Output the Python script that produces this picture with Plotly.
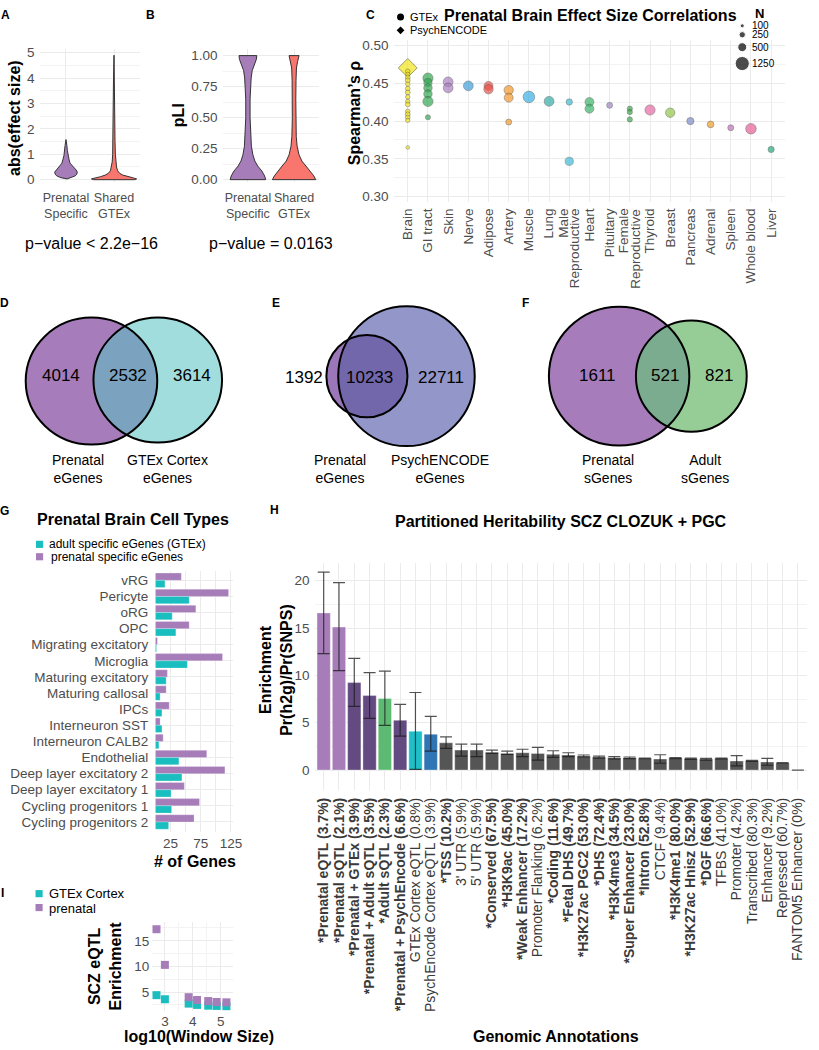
import numpy as np
import plotly.graph_objects as go

W, H = 819, 1050
FONT = "Liberation Sans, Arial, Helvetica, sans-serif"
BLACK = "#000000"
TICK = "#4D4D4D"
GRID = "#EBEBEB"
MINOR = "#F3F3F3"

# ======================= DATA =======================
# ---- Panel A: abs(effect size) violins (value grid + relative density)
a_groups = ["Prenatal<br>Specific", "Shared<br>GTEx"]
a_prenatal_value = [0.03, 0.08, 0.15, 0.22, 0.30, 0.38, 0.46, 0.55, 0.65, 0.78, 0.95, 1.15, 1.35, 1.58]
a_prenatal_density = [0.05, 0.23, 0.41, 0.48, 0.50, 0.45, 0.36, 0.27, 0.18, 0.14, 0.09, 0.06, 0.04, 0.0]
a_shared_value = [0.0, 0.03, 0.07, 0.12, 0.18, 0.25, 0.35, 0.5, 0.7, 1.0, 1.5, 2.0, 3.0, 4.0, 4.9]
a_shared_density = [0.91, 1.0, 0.86, 0.59, 0.39, 0.25, 0.16, 0.11, 0.08, 0.06, 0.045, 0.036, 0.027, 0.023, 0.0]
a_pvalue = "p\u2212value < 2.2e\u221216"

# ---- Panel B: pLI violins
b_groups = ["Prenatal<br>Specific", "Shared<br>GTEx"]
b_prenatal_value = [0.0, 0.03, 0.07, 0.11, 0.15, 0.2, 0.27, 0.35, 0.5, 0.65, 0.75, 0.82, 0.88, 0.93, 0.97, 1.0]
b_prenatal_density = [0.82, 0.77, 0.64, 0.45, 0.32, 0.23, 0.16, 0.13, 0.10, 0.10, 0.12, 0.15, 0.20, 0.30, 0.39, 0.41]
b_shared_value = [0.0, 0.03, 0.07, 0.11, 0.15, 0.2, 0.27, 0.35, 0.5, 0.65, 0.8, 0.9, 0.95, 1.0]
b_shared_density = [1.0, 0.91, 0.73, 0.55, 0.36, 0.23, 0.14, 0.10, 0.08, 0.08, 0.09, 0.11, 0.16, 0.23]
b_pvalue = "p\u2212value = 0.0163"

# ---- Panel C: effect size correlations
c_tissues = ["Brain", "GI tract", "Skin", "Nerve", "Adipose", "Artery", "Muscle", "Lung",
             "Male\nReproductive", "Heart", "Pituitary", "Female\nReproductive", "Thyroid",
             "Breast", "Pancreas", "Adrenal", "Spleen", "Whole blood", "Liver"]
c_point_tissue = (["Brain"] * 15 +
                  ["GI tract"] * 6 + ["Skin"] * 2 + ["Nerve"] + ["Adipose"] * 2 + ["Artery"] * 3 +
                  ["Muscle"] + ["Lung"] + ["Male\nReproductive"] * 2 + ["Heart"] * 2 + ["Pituitary"] +
                  ["Female\nReproductive"] * 3 + ["Thyroid"] + ["Breast"] + ["Pancreas"] + ["Adrenal"] +
                  ["Spleen"] + ["Whole blood"] + ["Liver"])
c_point_rho = ([0.466, 0.462, 0.458, 0.454, 0.449, 0.443, 0.438, 0.432, 0.426, 0.422, 0.413, 0.409, 0.405, 0.401, 0.365] +
               [0.457, 0.451, 0.444, 0.436, 0.426, 0.405] + [0.452, 0.444] + [0.4467] + [0.4467, 0.4422] +
               [0.441, 0.431, 0.3987] + [0.432] + [0.4262] + [0.4253, 0.3466] + [0.4253, 0.4164] + [0.4209] +
               [0.4164, 0.412, 0.4022] + [0.4147] + [0.4111] + [0.400] + [0.3956] + [0.3911] + [0.3898] + [0.3624])
c_point_n = ([130, 120, 140, 150, 130, 140, 150, 130, 120, 140, 130, 150, 130, 120, 80] +
             [650, 420, 450, 450, 650, 160] + [600, 600] + [600] + [500, 550] + [550, 500, 220] + [850] +
             [600] + [250, 420] + [500, 500] + [220] + [170, 170, 170] + [650] + [550] + [330] + [280] +
             [230] + [700] + [240])
c_psychencode_tissue = ["Brain"]
c_psychencode_rho = [0.4705]
c_psychencode_n = [1300]
c_size_legend_n = [100, 250, 500, 1250]
c_size_legend_labels = ["100", "250", "500", "1250"]

# ---- Panels D, E, F: Venn counts
d_counts = [4014, 2532, 3614]
d_sets = ["Prenatal<br>eGenes", "GTEx Cortex<br>eGenes"]
e_counts = [1392, 10233, 22711]
e_sets = ["Prenatal<br>eGenes", "PsychENCODE<br>eGenes"]
f_counts = [1611, 521, 821]
f_sets = ["Prenatal<br>sGenes", "Adult<br>sGenes"]

# ---- Panel G: prenatal brain cell types
g_cell_types = ["vRG", "Pericyte", "oRG", "OPC", "Migrating excitatory", "Microglia",
                "Maturing excitatory", "Maturing callosal", "IPCs", "Interneuron SST",
                "Interneuron CALB2", "Endothelial", "Deep layer excitatory 2",
                "Deep layer excitatory 1", "Cycling progenitors 1", "Cycling progenitors 2"]
g_prenatal = [43, 121, 67, 56, 3.5, 111, 20, 18, 23, 8, 13, 85, 115, 48, 73, 64]
g_adult = [16, 56, 28, 34, 2, 53, 18, 8, 11, 11, 6, 39, 44, 26, 27, 22]
g_legend = ["adult specific eGenes (GTEx)", "prenatal specific eGenes"]

# ---- Panel H: partitioned heritability
h_annotations = ["*Prenatal eQTL (3.7%)", "*Prenatal sQTL (2.1%)", "*Prenatal + GTEx (3.9%)",
                 "*Prenatal + Adult sQTL (3.5%)", "*Adult sQTL (2.3%)", "*Prenatal + PsychEncode (6.6%)",
                 "GTEx Cortex eQTL (0.8%)", "PsychEncode Cortex eQTL (3.9%)", "*TSS (10.2%)",
                 "3' UTR (5.9%)", "5' UTR (5.9%)", "*Conserved (67.5%)", "*H3K9ac (45.0%)",
                 "*Weak Enhancer (17.2%)", "Promoter Flanking (6.2%)", "*Coding (11.6%)",
                 "*Fetal DHS (49.7%)", "*H3K27ac PGC2 (53.0%)", "*DHS (72.4%)", "*H3K4me3 (34.5%)",
                 "*Super Enhancer (23.0%)", "*Intron (52.8%)", "CTCF (9.4%)", "*H3K4me1 (80.0%)",
                 "*H3K27ac Hnisz (52.9%)", "*DGF (66.6%)", "TFBS (41.0%)", "Promoter (4.2%)",
                 "Transcribed (80.3%)", "Enhancer (9.2%)", "Repressed (60.7%)", "FANTOM5 Enhancer (0%)"]
h_group = ["prenatal", "prenatal", "combined", "combined", "adult", "combined", "gtex", "psychencode"] + ["baseline"] * 24
h_enrichment = [16.6, 15.1, 9.24, 7.87, 7.56, 5.26, 4.1, 3.79, 2.88, 2.11, 2.11, 1.87, 1.76, 1.83, 1.76, 1.66,
                1.59, 1.48, 1.38, 1.31, 1.31, 1.24, 1.17, 1.27, 1.2, 1.17, 1.24, 0.96, 0.99, 0.86, 0.75, 0.0]
h_upper = [20.9, 19.8, 11.8, 10.3, 10.45, 6.93, 8.19, 5.68, 3.5, 2.74, 2.74, 2.11, 2.0, 2.2, 2.39, 2.04,
           1.83, 1.59, 1.48, 1.41, 1.38, 1.27, 1.62, 1.31, 1.27, 1.24, 1.27, 1.52, 1.03, 1.24, 0.79, 0.0]
h_lower = [12.3, 10.5, 6.72, 5.47, 4.73, 3.58, 0.08, 2.01, 2.29, 1.48, 1.41, 1.76, 1.66, 1.41, 1.06, 1.34,
           1.41, 1.38, 1.27, 1.17, 1.2, 1.2, 0.72, 1.2, 1.13, 1.06, 1.17, 0.44, 0.92, 0.51, 0.72, 0.0]

# ---- Panel I: SCZ eQTL enrichment by window size
i_log_window = [2.7, 3.0, 3.85, 4.15, 4.55, 4.85, 5.2]
i_prenatal = [17.25, 10.3, 4.0, 3.45, 3.25, 3.06, 3.0]
i_gtex = [4.4, 3.6, 2.75, 2.5, 2.35, 2.3, 2.25]
i_legend = ["GTEx Cortex", "prenatal"]

# ======================= STYLE =======================
PURPLE = "#A67DB9"
RED = "#F8766D"
CYAN = "#1BBEBF"
tissue_colors = {
    "Brain": "#F2E51E", "GI tract": "#35A853", "Skin": "#A97FC0", "Nerve": "#3E9FDB",
    "Adipose": "#E8554D", "Artery": "#F29A2E", "Muscle": "#39B0E6", "Lung": "#35ADA8",
    "Male\nReproductive": "#3EBDD7", "Heart": "#3DB56A", "Pituitary": "#A286C6",
    "Female\nReproductive": "#3FA84F", "Thyroid": "#E86AA6", "Breast": "#92C84A",
    "Pancreas": "#7E8DC8", "Adrenal": "#EFA02C", "Spleen": "#C071B5",
    "Whole blood": "#E95F96", "Liver": "#27AB80"}
h_colors = {"prenatal": PURPLE, "combined": "#634A80", "adult": "#5DBA73",
            "gtex": "#1EBFC9", "psychencode": "#2F75B5", "baseline": "#555555"}
SIZEREF = 12.5

# C axis geometry (pixels)
C_X0, C_X1, C_RANGE = 398, 794, (-0.7, 18.7)


def dom_x(a, b):
    return [a / W, b / W]


def dom_y(top, bottom):
    return [1 - bottom / H, 1 - top / H]


def axis(domain, rng, anchor, **kw):
    d = dict(domain=domain, range=rng, anchor=anchor, showgrid=True, gridcolor=GRID, gridwidth=1,
             zeroline=False, showline=False, ticks="", fixedrange=True,
             tickfont=dict(family=FONT, size=13.5, color=TICK))
    d.update(kw)
    return d


fig = go.Figure()


def violin(center, values, density, color, xa, ya, half=0.47):
    v = np.asarray(values, float)
    w = np.asarray(density, float) * half
    xs = np.concatenate([center + w, (center - w)[::-1], [center + w[0]]])
    ys = np.concatenate([v, v[::-1], [v[0]]])
    fig.add_trace(go.Scatter(x=xs, y=ys, mode="lines", fill="toself", fillcolor=color,
                             line=dict(color="#333333", width=1), xaxis=xa, yaxis=ya,
                             hoverinfo="skip", showlegend=False))


# A
violin(0, a_prenatal_value, a_prenatal_density, PURPLE, "x", "y")
violin(1, a_shared_value, a_shared_density, RED, "x", "y")
# B
violin(0, b_prenatal_value, b_prenatal_density, PURPLE, "x2", "y2")
violin(1, b_shared_value, b_shared_density, RED, "x2", "y2")

# C
c_x = [c_tissues.index(t) for t in c_point_tissue]
fig.add_trace(go.Scatter(
    x=[c_tissues.index(t) for t in c_psychencode_tissue], y=c_psychencode_rho, mode="markers",
    marker=dict(symbol="diamond", size=c_psychencode_n, sizemode="area", sizeref=SIZEREF,
                color=tissue_colors["Brain"], line=dict(color="#7a7320", width=1)),
    xaxis="x3", yaxis="y3", showlegend=False, hoverinfo="skip"))
fig.add_trace(go.Scatter(
    x=c_x, y=c_point_rho, mode="markers",
    marker=dict(symbol="circle", size=c_point_n, sizemode="area", sizeref=SIZEREF,
                color=[tissue_colors[t] for t in c_point_tissue],
                line=dict(color="rgba(60,60,60,0.75)", width=0.7)),
    xaxis="x3", yaxis="y3", showlegend=False, hoverinfo="skip"))

# G
fig.add_trace(go.Bar(y=g_cell_types, x=g_prenatal, orientation="h", marker=dict(color=PURPLE,
              line=dict(color="rgba(255,255,255,0.5)", width=0.5)), xaxis="x4", yaxis="y4",
              showlegend=False, hoverinfo="skip"))
fig.add_trace(go.Bar(y=g_cell_types, x=g_adult, orientation="h", marker=dict(color=CYAN,
              line=dict(color="rgba(255,255,255,0.5)", width=0.5)), xaxis="x4", yaxis="y4",
              showlegend=False, hoverinfo="skip"))

# H
h_val = np.array(h_enrichment)
fig.add_trace(go.Bar(
    x=list(range(len(h_annotations))), y=h_enrichment, width=0.87,
    marker=dict(color=[h_colors[g] for g in h_group], line=dict(color="rgba(255,255,255,0.6)", width=0.6)),
    error_y=dict(type="data", symmetric=False, array=list(np.array(h_upper) - h_val),
                 arrayminus=list(h_val - np.array(h_lower)), color="rgba(25,25,25,0.75)",
                 thickness=1.2, width=6),
    xaxis="x5", yaxis="y5", showlegend=False, hoverinfo="skip"))

# I
fig.add_trace(go.Scatter(x=i_log_window, y=i_gtex, mode="markers",
                         marker=dict(symbol="square", size=8, color=CYAN),
                         xaxis="x6", yaxis="y6", showlegend=False, hoverinfo="skip", cliponaxis=False))
fig.add_trace(go.Scatter(x=i_log_window, y=i_prenatal, mode="markers",
                         marker=dict(symbol="square", size=8, color=PURPLE),
                         xaxis="x6", yaxis="y6", showlegend=False, hoverinfo="skip", cliponaxis=False))

# Overlay legends for C (pixel space)
fig.add_trace(go.Scatter(x=[405], y=[14], mode="markers", marker=dict(symbol="circle", size=7, color="black"),
                         xaxis="x7", yaxis="y7", showlegend=False, hoverinfo="skip"))
fig.add_trace(go.Scatter(x=[405], y=[27.5], mode="markers", marker=dict(symbol="diamond", size=6, color="black"),
                         xaxis="x7", yaxis="y7", showlegend=False, hoverinfo="skip"))
fig.add_trace(go.Scatter(x=[750.5] * 4, y=[23, 32, 44.5, 61], mode="markers",
                         marker=dict(symbol="circle", size=c_size_legend_n, sizemode="area",
                                     sizeref=SIZEREF, color="black"),
                         xaxis="x7", yaxis="y7", showlegend=False, hoverinfo="skip"))

# ======================= VENN SHAPES =======================
shapes = []


def ell_pts(e, n=360):
    cx, cy, rx, ry = e
    t = np.linspace(0, 2 * np.pi, n, endpoint=False)
    return np.c_[cx + rx * np.cos(t), cy + ry * np.sin(t)]


def inside(p, e):
    cx, cy, rx, ry = e
    return ((p[:, 0] - cx) / rx) ** 2 + ((p[:, 1] - cy) / ry) ** 2 <= 1.0


def to_path(p):
    return "M " + " L ".join(f"{x:.2f},{y:.2f}" for x, y in p) + " Z"


def venn(e1, e2, c1, c2, c12):
    p1, p2 = ell_pts(e1), ell_pts(e2)
    for p, c in ((p1, c1), (p2, c2)):
        shapes.append(dict(type="path", path=to_path(p), xref="x7", yref="y7",
                           fillcolor=c, line=dict(width=0)))
    q = np.vstack([p1[inside(p1, e2)], p2[inside(p2, e1)]])
    cen = q.mean(0)
    q = q[np.argsort(np.arctan2(q[:, 1] - cen[1], q[:, 0] - cen[0]))]
    shapes.append(dict(type="path", path=to_path(q), xref="x7", yref="y7",
                       fillcolor=c12, line=dict(width=0)))
    for e in (e1, e2):
        cx, cy, rx, ry = e
        shapes.append(dict(type="circle", xref="x7", yref="y7", x0=cx - rx, x1=cx + rx,
                           y0=cy - ry, y1=cy + ry, line=dict(color="black", width=2),
                           fillcolor="rgba(0,0,0,0)"))


venn((92.5, 381, 66.5, 64), (159.5, 380, 65, 63), "#A67DBA", "#A1DDDD", "#7BA3BF")
venn((411, 376, 69, 70.5), (371, 376, 41, 41.5), "#9396C8", "#9B76B8", "#7367AB")
venn((626, 376, 71, 70), (699, 376, 56, 56), "#A67DBA", "#96CC96", "#7BAC8F")

# legend squares (G, I)
for (cx, cy, col) in [(40, 545.5, CYAN), (40, 558, PURPLE), (39.5, 897.5, CYAN), (39.5, 911.5, PURPLE)]:
    shapes.append(dict(type="rect", xref="x7", yref="y7", x0=cx - 3.6, x1=cx + 3.6, y0=cy - 3.6,
                       y1=cy + 3.6, fillcolor=col, line=dict(width=0)))

# ======================= ANNOTATIONS =======================
anns = []


def ann(x, y, text, size=13.5, color=BLACK, bold=False, xanchor="center", yanchor="middle", angle=0):
    if bold:
        text = f"<b>{text}</b>"
    anns.append(dict(x=x, y=y, xref="x7", yref="y7", text=text, showarrow=False,
                     font=dict(family=FONT, size=size, color=color), xanchor=xanchor,
                     yanchor=yanchor, textangle=angle, align="center"))


for lab, x, y in [("A", 6, 12), ("B", 152, 12), ("C", 375, 12), ("D", 5, 302), ("E", 279, 302),
                  ("F", 531, 302), ("G", 5, 512), ("H", 278, 511), ("I", 3, 897)]:
    ann(x, y, lab, size=12, bold=True)

ann(597, 13, "Prenatal Brain Effect Size Correlations", size=16, bold=True)
ann(134, 520, "Prenatal Brain Cell Types", size=16, bold=True)
ann(567, 522, "Partitioned Heritability SCZ CLOZUK + PGC", size=16, bold=True)

ann(14, 116, "abs(effect size)", size=16, bold=True, angle=-90)
ann(180, 113, "pLI", size=16, bold=True, angle=-90)
ann(358, 111, "Spearman\u2019s \u03c1", size=16, bold=True, angle=-90)
ann(197, 865, "# of Genes", size=16, bold=True)
ann(279, 672, "Enrichment<br>Pr(h2g)/Pr(SNPS)", size=16, bold=True, angle=-90)
ann(562, 1041, "Genomic Annotations", size=16, bold=True)
ann(106, 970, "SCZ eQTL<br>Enrichment", size=16, bold=True, angle=-90)
ann(201, 1041, "log10(Window Size)", size=16, bold=True)

ann(93, 242, a_pvalue, size=16)
ann(274, 242, b_pvalue, size=16)

# C: two-line tissue tick labels drawn as tight rotated text (one line per column)
c_ticktext = []
for i, t in enumerate(c_tissues):
    if "\n" in t:
        c_ticktext.append("")
        xpix = C_X0 + (i - C_RANGE[0]) / (C_RANGE[1] - C_RANGE[0]) * (C_X1 - C_X0)
        first, second = t.split("\n")
        ann(xpix - 5.5, 205, first, size=13.5, color=TICK, yanchor="top", angle=-90)
        ann(xpix + 5.5, 205, second, size=13.5, color=TICK, yanchor="top", angle=-90)
    else:
        c_ticktext.append(t)

for (x, n) in zip([62, 129, 194], d_counts):
    ann(x, 375, str(n), size=17)
for (x, n) in zip([307, 374, 446], e_counts):
    ann(x, 377, str(n), size=17)
for (x, n) in zip([604, 672, 727], f_counts):
    ann(x, 375, str(n), size=17)
for (x, t) in zip([79, 169], d_sets):
    ann(x, 470, t, size=14)
for (x, t) in zip([344, 445], e_sets):
    ann(x, 470, t, size=14)
for (x, t) in zip([615, 713], f_sets):
    ann(x, 470, t, size=14)

ann(413, 14, "GTEx", size=11, xanchor="left")
ann(413, 27.5, "PsychENCODE", size=11, xanchor="left")
ann(768, 11, "N", size=13, bold=True)
for (y, t) in zip([23, 32, 44.5, 61], c_size_legend_labels):
    ann(758, y, t, size=10, xanchor="left")
ann(48, 545, g_legend[0], size=12, xanchor="left")
ann(50, 558.5, g_legend[1], size=12, xanchor="left")
ann(48, 897, i_legend[0], size=13, xanchor="left")
ann(48, 912, i_legend[1], size=13, xanchor="left")

# ======================= LAYOUT =======================
h_ticktext = [f"<b>{t}</b>" if t.startswith("*") else t for t in h_annotations]

fig.update_layout(
    width=W, height=H, margin=dict(l=0, r=0, t=0, b=0, pad=0),
    paper_bgcolor="white", plot_bgcolor="rgba(0,0,0,0)", showlegend=False,
    font=dict(family=FONT, color=BLACK), barmode="group", bargap=0.1, bargroupgap=0,
    # A
    xaxis=axis(dom_x(40, 142), [-0.55, 1.55], "y", tickvals=[0, 1], ticktext=a_groups, tickangle=0,
               ticklabelstandoff=6, tickfont=dict(family=FONT, size=12.5, color=TICK)),
    yaxis=axis(dom_y(46.2, 180.6), [-0.1, 5.15], "x", tickvals=[0, 1, 2, 3, 4, 5],
               minor=dict(dtick=0.5, tick0=0, showgrid=True, gridcolor=MINOR), ticklabelstandoff=4),
    # B
    xaxis2=axis(dom_x(225, 323), [-0.55, 1.55], "y2", tickvals=[0, 1], ticktext=b_groups, tickangle=0,
                ticklabelstandoff=6, tickfont=dict(family=FONT, size=12.5, color=TICK)),
    yaxis2=axis(dom_y(46.75, 180.5), [-0.02, 1.05], "x2", tickvals=[0, 0.25, 0.5, 0.75, 1.0],
                ticktext=["0.00", "0.25", "0.50", "0.75", "1.00"],
                minor=dict(dtick=0.125, tick0=0, showgrid=True, gridcolor=MINOR), ticklabelstandoff=4),
    # C
    xaxis3=axis(dom_x(C_X0, C_X1), list(C_RANGE), "y3", tickvals=list(range(len(c_tissues))),
                ticktext=c_ticktext, tickangle=-90, ticklabelstandoff=3),
    yaxis3=axis(dom_y(36.9, 200.3), [0.293, 0.508], "x3", tickvals=[0.30, 0.35, 0.40, 0.45, 0.50],
                ticktext=["0.30", "0.35", "0.40", "0.45", "0.50"],
                minor=dict(dtick=0.025, tick0=0.3, showgrid=True, gridcolor=MINOR), ticklabelstandoff=4),
    # G
    xaxis4=axis(dom_x(157, 236), [0, 129], "y4", tickvals=[25, 75, 125],
                minor=dict(dtick=25, tick0=0, showgrid=True, gridcolor=GRID), ticklabelstandoff=2),
    yaxis4=axis(dom_y(572, 835), [15.6, -0.6], "x4", type="category", categoryorder="array",
                categoryarray=g_cell_types, ticklabelstandoff=6),
    # H
    xaxis5=axis(dom_x(318, 816), [-0.6, 31.6], "y5", tickvals=list(range(len(h_annotations))),
                ticktext=h_ticktext, tickangle=-90, tickfont=dict(family=FONT, size=14, color="#3a3a3a"),
                ticklabelstandoff=4),
    yaxis5=axis(dom_y(564, 793), [-2.1, 21.9], "x5", tickvals=[0, 5, 10, 15, 20],
                minor=dict(dtick=2.5, tick0=0, showgrid=True, gridcolor=MINOR), ticklabelstandoff=4),
    # I
    xaxis6=axis(dom_x(154, 236), [2.55, 5.45], "y6", tickvals=[3, 4, 5],
                minor=dict(dtick=0.5, tick0=2.5, showgrid=True, gridcolor=MINOR), ticklabelstandoff=0),
    yaxis6=axis(dom_y(926, 1016), [1.26, 18.67], "x6", tickvals=[5, 10, 15],
                minor=dict(dtick=2.5, tick0=0, showgrid=True, gridcolor=MINOR), ticklabelstandoff=2),
    # overlay pixel space
    xaxis7=dict(domain=[0, 1], range=[0, W], anchor="y7", visible=False, fixedrange=True),
    yaxis7=dict(domain=[0, 1], range=[H, 0], anchor="x7", visible=False, fixedrange=True),
    shapes=shapes, annotations=anns,
)

fig.write_html("out.html", config={"displayModeBar": False},
               post_script="document.body.style.margin='0px';")
